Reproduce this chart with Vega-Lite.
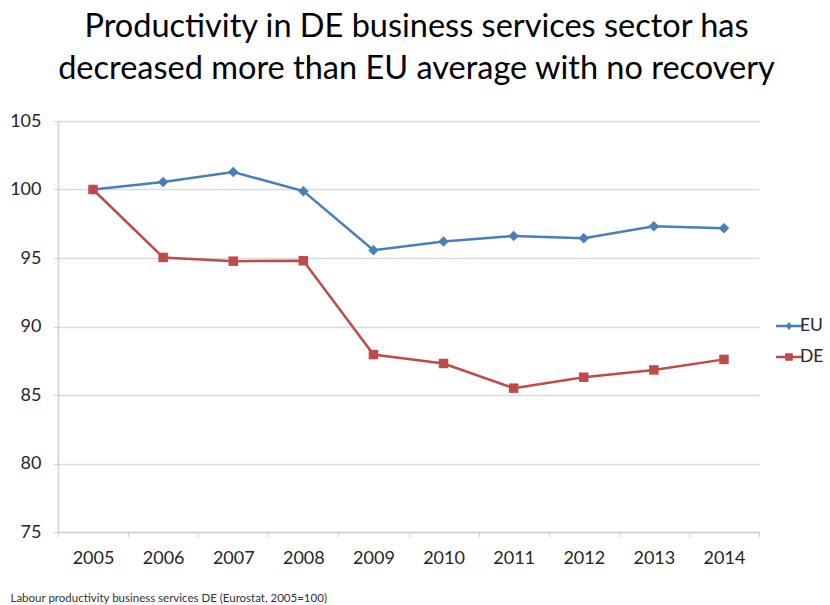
{
  "$schema": "https://vega.github.io/schema/vega-lite/v6.json",
  "width": 701,
  "height": 411,
  "autosize": "none",
  "padding": {"left": 58, "top": 121, "right": 71, "bottom": 73},
  "background": "white",
  "title": {
    "text": ["Productivity in DE business services sector has", "decreased more than EU average with no recovery"],
    "font": "Lato",
    "fontSize": 32.5,
    "fontWeight": "normal",
    "color": "#000000",
    "lineHeight": 42,
    "anchor": "middle",
    "offset": 27,
    "dx": 8
  },
  "data": {
    "values": [
      {"year": "2005", "series": "EU", "value": 100.0},
      {"year": "2006", "series": "EU", "value": 100.55},
      {"year": "2007", "series": "EU", "value": 101.28},
      {"year": "2008", "series": "EU", "value": 99.88},
      {"year": "2009", "series": "EU", "value": 95.57},
      {"year": "2010", "series": "EU", "value": 96.21},
      {"year": "2011", "series": "EU", "value": 96.6},
      {"year": "2012", "series": "EU", "value": 96.45},
      {"year": "2013", "series": "EU", "value": 97.32},
      {"year": "2014", "series": "EU", "value": 97.18},
      {"year": "2005", "series": "DE", "value": 100.0},
      {"year": "2006", "series": "DE", "value": 95.04},
      {"year": "2007", "series": "DE", "value": 94.77},
      {"year": "2008", "series": "DE", "value": 94.8},
      {"year": "2009", "series": "DE", "value": 87.95},
      {"year": "2010", "series": "DE", "value": 87.3},
      {"year": "2011", "series": "DE", "value": 85.5},
      {"year": "2012", "series": "DE", "value": 86.3},
      {"year": "2013", "series": "DE", "value": 86.83},
      {"year": "2014", "series": "DE", "value": 87.6}
    ]
  },
  "encoding": {
    "x": {
      "field": "year",
      "type": "ordinal",
      "scale": {"type": "band", "paddingInner": 0, "paddingOuter": 0},
      "axis": {
        "title": "Labour productivity business services DE (Eurostat, 2005=100)",
        "titleFont": "Lato",
        "titleFontSize": 11.5,
        "titleFontWeight": "normal",
        "titleColor": "#333333",
        "titleAnchor": "start",
        "titleAlign": "left",
        "titleBaseline": "alphabetic",
        "titleX": -48,
        "titleY": 69,
        "labelAngle": 0,
        "labelFont": "Lato",
        "labelFontSize": 18,
        "labelColor": "#262626",
        "labelPadding": 12,
        "tickBand": "extent",
        "tickSize": 5,
        "tickColor": "#d0d0d0",
        "domainColor": "#d0d0d0",
        "domainWidth": 1.5,
        "grid": false
      }
    },
    "y": {
      "field": "value",
      "type": "quantitative",
      "scale": {"domain": [75, 105], "nice": false, "zero": false},
      "axis": {
        "title": null,
        "values": [75, 80, 85, 90, 95, 100, 105],
        "labelFont": "Lato",
        "labelFontSize": 18,
        "labelColor": "#262626",
        "labelPadding": 12,
        "tickSize": 5,
        "tickColor": "#d0d0d0",
        "domainColor": "#d0d0d0",
        "domainWidth": 1.5,
        "grid": true,
        "gridColor": "#d9d9d9",
        "gridWidth": 1.5
      }
    }
  },
  "layer": [
    {
      "mark": {"type": "line", "strokeWidth": 2.5},
      "encoding": {
        "color": {
          "field": "series",
          "type": "nominal",
          "scale": {"domain": ["EU", "DE"], "range": ["#4a7ebb", "#be4b48"]},
          "legend": null
        }
      }
    },
    {
      "transform": [{"filter": "datum.series == 'EU'"}],
      "mark": {"type": "point", "shape": "diamond", "filled": true, "opacity": 1, "size": 110, "color": "#4a7ebb"}
    },
    {
      "transform": [{"filter": "datum.series == 'DE'"}],
      "mark": {"type": "point", "shape": "square", "filled": true, "opacity": 1, "size": 90, "color": "#be4b48"}
    },
    {
      "mark": {"type": "point", "filled": true, "opacity": 0, "size": 400},
      "encoding": {
        "shape": {
          "field": "series",
          "type": "nominal",
          "scale": {
            "domain": ["EU", "DE"],
            "range": [
              "M-1.3,-0.12H1.3V0.12H-1.3Z M0,-0.4L0.32,0L0,0.4L-0.32,0Z",
              "M-1.3,-0.12H1.3V0.12H-1.3Z M-0.38,-0.38H0.38V0.38H-0.38Z"
            ]
          },
          "legend": {
            "title": null,
            "orient": "none",
            "legendX": 721,
            "legendY": 195,
            "labelFont": "Lato",
            "labelFontSize": 17.5,
            "labelColor": "#262626",
            "labelOffset": 1,
            "rowPadding": 12,
            "symbolSize": 400,
            "symbolOpacity": 1,
            "symbolStrokeWidth": 0
          }
        },
        "fill": {
          "field": "series",
          "type": "nominal",
          "scale": {"domain": ["EU", "DE"], "range": ["#4a7ebb", "#be4b48"]},
          "legend": {
            "title": null,
            "orient": "none",
            "legendX": 721,
            "legendY": 195,
            "labelFont": "Lato",
            "labelFontSize": 17.5,
            "labelColor": "#262626",
            "labelOffset": 1,
            "rowPadding": 12,
            "symbolSize": 400,
            "symbolOpacity": 1,
            "symbolStrokeWidth": 0
          }
        }
      }
    }
  ],
  "resolve": {"scale": {"color": "independent"}},
  "config": {
    "view": {"stroke": null},
    "font": "Lato"
  }
}
